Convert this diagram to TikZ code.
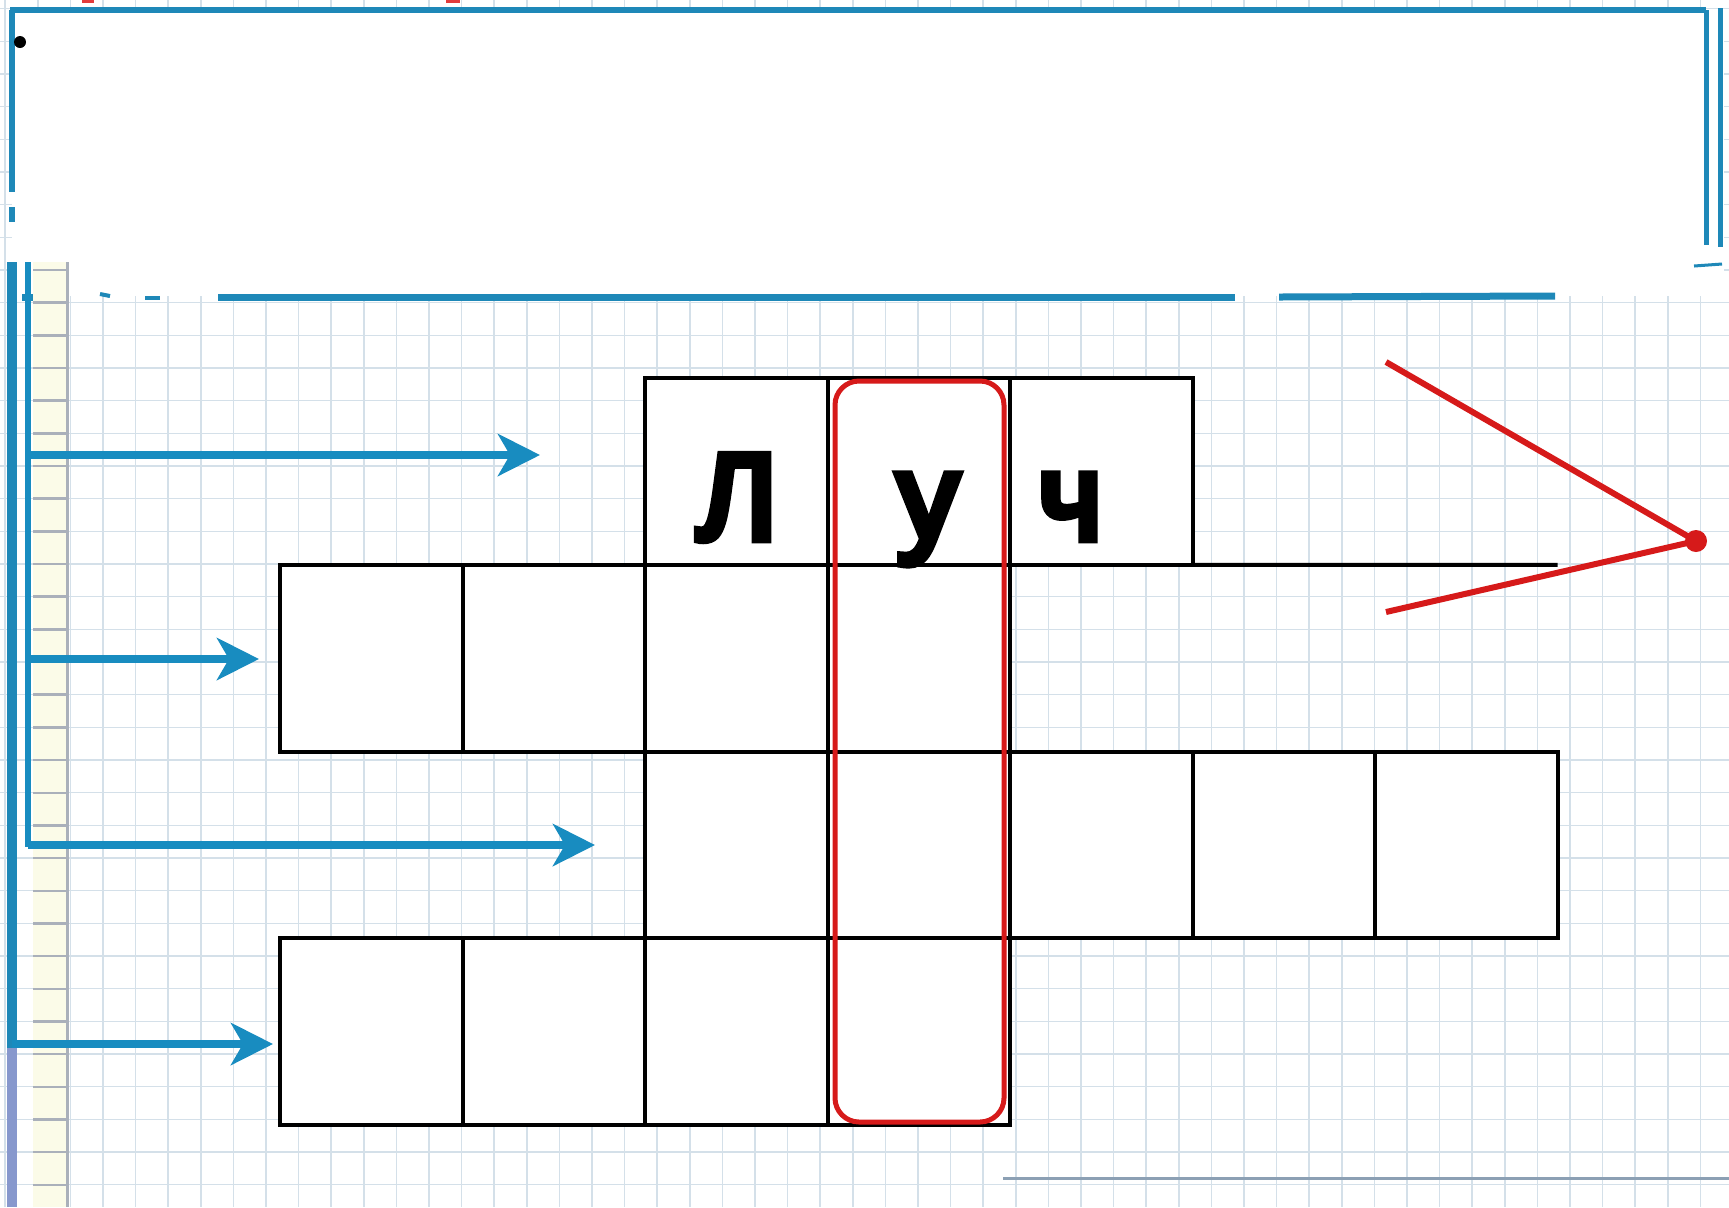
\documentclass[tikz,border=0pt]{standalone}
\usepackage{fontspec}
\newfontfamily\cellfont{Liberation Sans}[FakeBold=7]
\usetikzlibrary{arrows.meta}
\definecolor{arrblue}{RGB}{24,140,192}
\definecolor{frameblue}{RGB}{30,136,184}
\definecolor{gridc}{RGB}{212,224,233}
\definecolor{redc}{RGB}{214,26,26}
\definecolor{marginpurple}{RGB}{135,152,205}
\definecolor{stripc}{RGB}{251,251,232}
\definecolor{stripgray}{RGB}{170,176,186}
\definecolor{bottomgray}{RGB}{140,160,180}
\definecolor{redmark}{RGB}{225,60,60}
\begin{document}
\begin{tikzpicture}[x=0.5pt,y=-0.5pt,
  gridline/.style={draw=gridc, line width=0.75pt},
  cell/.style={draw=black, line width=2pt, fill=white, minimum width=91.25pt, minimum height=93.4pt, inner sep=0pt, outer sep=0pt},
  arr/.style={draw=arrblue, line width=4pt, -{Stealth[length=21pt,width=21pt,inset=6pt,fill=arrblue]}},
  framel/.style={draw=frameblue, line width=3pt},
  letter/.style={font=\cellfont\fontsize{61pt}{65pt}\selectfont, inner sep=0pt, anchor=base}]
\useasboundingbox (0,0) rectangle (1729,1207);
\fill[white] (0,0) rectangle (1729,1207);
% grid paper
\foreach \k in {0,...,52} \draw[gridline] ({5.2+32.6*\k},0) -- ({5.2+32.6*\k},1207);
\foreach \k in {0,...,36} \draw[gridline] (0,{8.6+32.67*\k}) -- (1729,{8.6+32.67*\k});
% erased title box
\fill[white] (12,10) rectangle (1724,296);
% small red marks at top edge
\fill[redmark] (82,0) rectangle (94,3);
\fill[redmark] (446,0) rectangle (460,3);
% title frame
\draw[framel] (10,10) -- (1706,10);
\draw[framel, line width=2.5pt] (1706,10) -- (1706,245);
\draw[framel, line width=2.5pt] (1720,8) -- (1720,247);
\draw[framel] (12,10) -- (12,192);
\draw[framel] (12,207) -- (12,222);
\draw[framel, line width=1.5pt] (1694,266) -- (1722,264);
\draw[framel, line width=3.5pt] (22,297) -- (69,297);
\draw[framel, line width=2pt] (100,294) -- (110,296);
\draw[framel, line width=2pt] (145,298) -- (160,298);
\draw[framel, line width=3.5pt] (218,297) -- (1235,297);
\draw[framel, line width=3.5pt] (1279,297) -- (1555,296);
\fill[black] (20,42) circle (3pt);
% left margin strip
\fill[stripc] (33,262) rectangle (66,1207);
\foreach \k in {8,...,36} \draw[stripgray, line width=1.2pt] (33,{8.6+32.67*\k}) -- (66,{8.6+32.67*\k});
\draw[stripgray, line width=1.5pt] (67,262) -- (67,1207);
% margin lines
\coordinate (o0) at (12,262);
\coordinate (o4) at (12,1044);
\coordinate (oe) at (12,1207);
\coordinate (i0) at (28,262);
\coordinate (i1) at (28,455);
\coordinate (i2) at (28,659);
\coordinate (i3) at (28,845);
\draw[draw=frameblue, line width=5pt] (o0) -- ([yshift=-2pt]o4);
\draw[draw=marginpurple, line width=5pt] ([yshift=-2pt]o4) -- (oe);
\draw[draw=arrblue, line width=3pt] (i0) -- ([yshift=-1pt]i3);
% crossword cells
\foreach \r/\c in {0/2,0/3,0/4,1/0,1/1,1/2,1/3,2/2,2/3,2/4,2/5,2/6,3/0,3/1,3/2,3/3}
  \node[cell] (c\r\c) at ({371.25+182.5*\c},{471.4+186.75*\r}) {};
\coordinate (rayend) at (1557.5,564.75);
\draw[line width=2pt] (c04.south east) -- (rayend);
% arrows
\coordinate (t1) at (540,455);
\coordinate (t2) at (259,659);
\coordinate (t3) at (595,845);
\coordinate (t4) at (273,1044);
\draw[arr] (i1) -- (t1);
\draw[arr] (i2) -- (t2);
\draw[arr] (i3) -- (t3);
\draw[arr] (o4) -- (t4);
% highlighted column
\node[draw=redc, line width=2.5pt, rounded corners=12pt, minimum width=84.5pt, minimum height=370.5pt, inner sep=0pt] (hl) at (919.5,751.5) {};
% letters
\node[letter] (l1) at (737,539) {Л};
\node[letter] (l2) at (928,539) {у};
\node[letter] (l3) at (1070,539) {ч};
% ray angle
\coordinate (v) at (1696,541);
\coordinate (r1) at (1386,362);
\coordinate (r2) at (1386,612);
\draw[redc, line width=3pt] (r1) -- (v) -- (r2);
\fill[redc] (v) circle (5.5pt);
% bottom line
\coordinate (b1) at (1003,1178);
\coordinate (b2) at (1729,1178);
\draw[bottomgray, line width=1.5pt] (b1) -- (b2);
\end{tikzpicture}
\end{document}
